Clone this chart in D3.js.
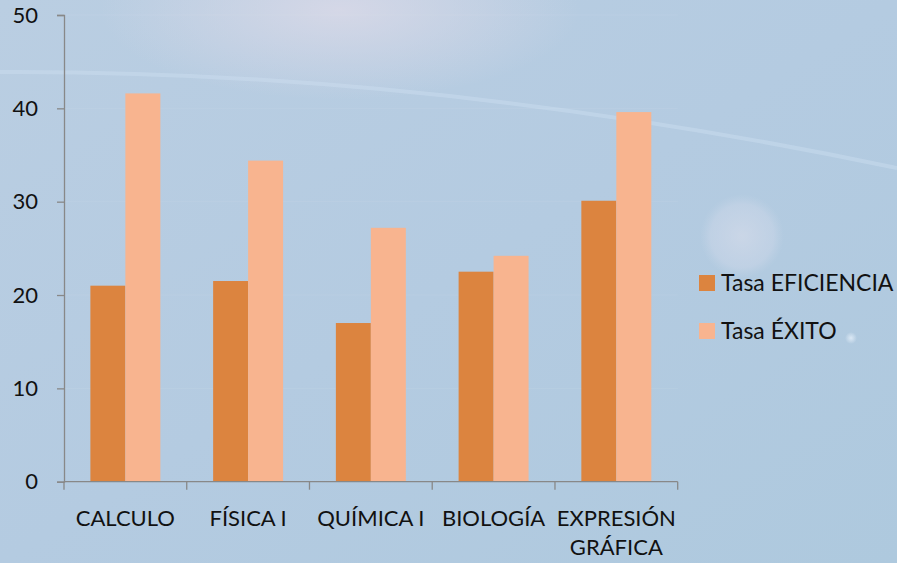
<!DOCTYPE html>
<html><head><meta charset="utf-8">
<script src="https://cdn.jsdelivr.net/npm/d3@7"></script>
<style>html,body{margin:0;padding:0;overflow:hidden;background:#b1cae0}</style>
</head><body>
<svg id="c" width="897" height="563"></svg>
<script>
const categories = ["CALCULO", "FÍSICA I", "QUÍMICA I", "BIOLOGÍA", "EXPRESIÓN GRÁFICA"];
const seriesNames = ["Tasa EFICIENCIA", "Tasa ÉXITO"];
const eficiencia = [21.0, 21.5, 17.0, 22.5, 30.1];
const exito = [41.6, 34.4, 27.2, 24.2, 39.6];
const yTicks = [0, 10, 20, 30, 40, 50];
const colors = ["#dc843f", "#f8b48f"];

const svg = d3.select("#c");
const W = 897, H = 563;
const FONT = "Lato, 'Open Sans', sans-serif";

// background
const defs = svg.append("defs");
const lg = defs.append("linearGradient").attr("id","bg").attr("x1",0).attr("y1",0).attr("x2",1).attr("y2",1);
lg.append("stop").attr("offset","0%").attr("stop-color","#bacee2");
lg.append("stop").attr("offset","50%").attr("stop-color","#b4cbe1");
lg.append("stop").attr("offset","100%").attr("stop-color","#aec9de");
svg.append("rect").attr("width",W).attr("height",H).attr("fill","url(#bg)");
const rg = defs.append("radialGradient").attr("id","glow").attr("cx","0.5").attr("cy","0.5").attr("r","0.5");
rg.append("stop").attr("offset","0%").attr("stop-color","#dcdae8").attr("stop-opacity",0.8);
rg.append("stop").attr("offset","100%").attr("stop-color","#dcdae8").attr("stop-opacity",0);
svg.append("ellipse").attr("cx",340).attr("cy",10).attr("rx",240).attr("ry",90).attr("fill","url(#glow)");
const rg2 = defs.append("radialGradient").attr("id","orb");
rg2.append("stop").attr("offset","0%").attr("stop-color","#d2dae9").attr("stop-opacity",0.75);
rg2.append("stop").attr("offset","75%").attr("stop-color","#cad6e8").attr("stop-opacity",0.55);
rg2.append("stop").attr("offset","100%").attr("stop-color","#c4d4e6").attr("stop-opacity",0);
svg.append("circle").attr("cx",742).attr("cy",236).attr("r",42).attr("fill","url(#orb)");
const rg3 = defs.append("radialGradient").attr("id","spot");
rg3.append("stop").attr("offset","0%").attr("stop-color","#e6f0fa").attr("stop-opacity",0.8);
rg3.append("stop").attr("offset","100%").attr("stop-color","#e6f0fa").attr("stop-opacity",0);
svg.append("circle").attr("cx",851).attr("cy",338).attr("r",6).attr("fill","url(#spot)");
// faint arc
svg.append("path").attr("d","M0,72 Q430,70 897,168").attr("fill","none")
  .attr("stroke","#cfe1f2").attr("stroke-width",4).attr("opacity",0.4);

// scales
const x0 = d3.scaleBand().domain(categories).range([64, 677.7]).paddingInner(0.43).paddingOuter(0.215);
const x1 = d3.scaleBand().domain(seriesNames).range([0, x0.bandwidth()]);
const y = d3.scaleLinear().domain([0, 50]).range([481.7, 15]);

// faint gridlines
svg.append("g").selectAll("line").data(yTicks.slice(1)).join("line")
  .attr("x1",64).attr("x2",677.7).attr("y1",d=>y(d)).attr("y2",d=>y(d))
  .attr("stroke","#ffffff").attr("stroke-opacity",0.07);

// bars
const data = categories.map((c,i)=>({c, vals:[eficiencia[i], exito[i]]}));
const g = svg.append("g");
g.selectAll("g").data(data).join("g")
  .attr("transform", d=>`translate(${x0(d.c)},0)`)
  .selectAll("rect").data(d=>d.vals.map((v,j)=>({k:seriesNames[j], v, j})))
  .join("rect")
  .attr("x", d=>x1(d.k)).attr("width", x1.bandwidth())
  .attr("y", d=>y(d.v)).attr("height", d=>y(0)-y(d.v))
  .attr("fill", d=>colors[d.j]);

// y axis
const ya = svg.append("g").attr("transform","translate(64,0)")
  .call(d3.axisLeft(y).tickValues(yTicks).tickSize(7).tickPadding(19).tickFormat(d3.format("d")));
ya.select(".domain").attr("stroke","#888").attr("stroke-width",1.3);
ya.selectAll(".tick line").attr("stroke","#888").attr("stroke-width",1.3);
ya.selectAll(".tick text").attr("font-family",FONT).attr("font-size",22).attr("fill","#111");

// x axis
const xa = svg.append("g").attr("transform",`translate(0,${y(0)})`);
xa.append("line").attr("x1",64).attr("x2",677.7).attr("y1",0).attr("y2",0).attr("stroke","#888").attr("stroke-width",1.3);
const bounds = categories.map(c=>x0(c)-x0.step()*x0.paddingInner()/2).concat([677.7]);
xa.selectAll("line.t").data(bounds).join("line").attr("class","t")
  .attr("x1",d=>d).attr("x2",d=>d).attr("y1",0).attr("y2",8).attr("stroke","#888").attr("stroke-width",1.3);
const labels = xa.selectAll("text").data(categories).join("text")
  .attr("text-anchor","middle").attr("font-family",FONT).attr("font-size",22).attr("fill","#111")
  .attr("transform",d=>`translate(${x0(d)+x0.bandwidth()/2},0)`);
labels.each(function(d){
  const words = d === "EXPRESIÓN GRÁFICA" ? ["EXPRESIÓN","GRÁFICA"] : [d];
  d3.select(this).selectAll("tspan").data(words).join("tspan")
    .attr("x",0).attr("y",(w,i)=>44+i*29).text(w=>w);
});

// legend
const leg = svg.append("g");
seriesNames.forEach((s,i)=>{
  const yy = 275 + i*48;
  leg.append("rect").attr("x",699).attr("y",yy).attr("width",16).attr("height",16).attr("fill",colors[i]);
  leg.append("text").attr("x",721).attr("y",yy+16).attr("font-family",FONT).attr("font-size",23)
    .attr("fill","#111").text(s);
});
</script>
</body></html>
